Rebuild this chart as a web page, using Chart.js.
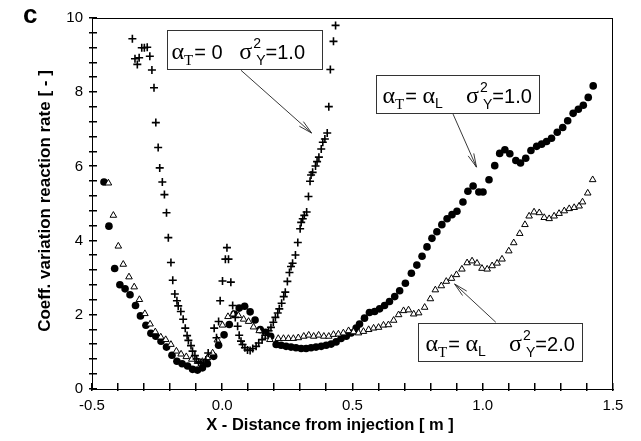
<!DOCTYPE html>
<html>
<head>
<meta charset="utf-8">
<script src="https://cdn.jsdelivr.net/npm/chart.js@4"></script>
<style>
  html, body { margin: 0; padding: 0; background: #fff; }
  canvas { display: block; }
</style>
</head>
<body>
<canvas id="chart" width="641" height="441"></canvas>
<script>
// alpha_T = alpha_L, sigma2_Y = 1.0  (filled circles)
const circX = [-0.454,-0.435,-0.413,-0.393,-0.373,-0.354,-0.333,-0.314,-0.293,-0.274,
  -0.255,-0.235,-0.214,-0.193,-0.174,-0.154,-0.133,-0.114,-0.095,-0.076,
  -0.057,-0.033,-0.014,0.007,0.027,0.046,0.065,0.086,0.107,0.126,
  0.146,0.166,0.186,0.207,0.226,0.245,0.264,0.283,0.303,0.322,
  0.341,0.360,0.380,0.399,0.418,0.437,0.456,0.476,0.495,0.514,
  0.527,0.546,0.565,0.585,0.604,0.623,0.642,0.662,0.681,0.703,
  0.726,0.747,0.767,0.786,0.805,0.824,0.843,0.863,0.882,0.901,
  0.924,0.943,0.963,0.985,1.001,1.024,1.046,1.065,1.085,1.104,
  1.127,1.145,1.165,1.185,1.207,1.226,1.245,1.264,1.286,1.307,
  1.326,1.347,1.367,1.386,1.405,1.424];
const circY = [5.58,4.39,3.25,2.81,2.70,2.54,2.25,1.97,1.72,1.50,
  1.42,1.29,1.13,0.91,0.75,0.68,0.62,0.53,0.51,0.57,
  0.68,0.88,1.18,1.46,1.74,2.02,2.18,2.23,2.08,1.86,
  1.60,1.53,1.42,1.20,1.18,1.15,1.13,1.11,1.09,1.09,
  1.11,1.13,1.15,1.18,1.21,1.27,1.36,1.42,1.51,1.64,
  1.75,1.91,2.06,2.09,2.16,2.25,2.36,2.49,2.65,2.85,
  3.12,3.34,3.58,3.83,4.06,4.24,4.43,4.59,4.70,4.79,
  5.04,5.33,5.47,5.31,5.31,5.64,6.02,6.35,6.45,6.34,
  6.16,6.09,6.22,6.43,6.54,6.60,6.67,6.76,6.92,7.05,
  7.23,7.43,7.54,7.65,7.86,8.17];

// alpha_T = alpha_L, sigma2_Y = 2.0  (open triangles)
const triX = [-0.437,-0.418,-0.399,-0.380,-0.358,-0.338,-0.318,-0.297,-0.277,-0.257,
  -0.236,-0.217,-0.197,-0.176,-0.158,-0.138,-0.117,-0.095,-0.076,-0.057,
  -0.037,-0.019,0.001,0.022,0.042,0.062,0.082,0.101,0.120,0.142,
  0.164,0.183,0.215,0.235,0.254,0.273,0.292,0.313,0.332,0.351,
  0.370,0.390,0.409,0.427,0.446,0.465,0.485,0.504,0.523,0.542,
  0.562,0.581,0.600,0.619,0.638,0.658,0.677,0.696,0.715,0.735,
  0.754,0.777,0.799,0.818,0.841,0.860,0.880,0.899,0.920,0.940,
  0.959,0.978,0.997,1.017,1.036,1.055,1.074,1.100,1.119,1.142,
  1.162,1.178,1.197,1.217,1.236,1.255,1.274,1.293,1.313,1.332,
  1.351,1.370,1.383,1.403,1.422];
const triY = [5.55,4.68,3.85,3.36,3.02,2.75,2.41,2.03,1.75,1.54,
  1.40,1.33,1.20,1.02,0.94,0.87,0.80,0.74,0.74,0.84,
  0.97,1.32,1.72,1.95,2.02,1.98,1.88,1.82,1.67,1.57,
  1.42,1.33,1.36,1.36,1.36,1.36,1.38,1.42,1.45,1.42,
  1.45,1.42,1.42,1.47,1.48,1.51,1.57,1.54,1.51,1.55,
  1.60,1.64,1.66,1.72,1.73,1.85,2.00,2.11,2.13,2.02,
  2.05,2.20,2.43,2.67,2.78,2.90,2.98,3.08,3.23,3.40,
  3.45,3.39,3.25,3.23,3.32,3.39,3.50,3.72,3.94,4.19,
  4.43,4.66,4.77,4.75,4.62,4.59,4.66,4.73,4.80,4.86,
  4.89,4.93,5.04,5.28,5.64];

// alpha_T = 0, sigma2_Y = 1.0  (crosses)
const crossX = [-0.345,-0.335,-0.326,-0.319,-0.309,-0.299,-0.288,-0.278,-0.270,-0.262,
  -0.255,-0.246,-0.240,-0.230,-0.222,-0.214,-0.207,-0.197,-0.190,-0.182,
  -0.174,-0.169,-0.159,-0.150,-0.142,-0.135,-0.130,-0.120,-0.114,-0.105,
  -0.099,-0.091,-0.082,-0.073,-0.063,-0.054,-0.031,-0.022,-0.014,-0.008,
  0.001,0.012,0.018,0.024,0.033,0.040,0.050,0.059,0.065,0.072,
  0.078,0.087,0.097,0.107,0.117,0.130,0.140,0.153,0.165,0.178,
  0.187,0.196,0.204,0.213,0.219,0.228,0.236,0.242,0.250,0.258,
  0.264,0.270,0.281,0.290,0.299,0.303,0.309,0.315,0.324,0.331,
  0.337,0.341,0.347,0.358,0.364,0.371,0.380,0.386,0.394,0.403,
  0.409,0.415,0.427,0.435];
const crossY = [9.44,8.90,8.75,8.93,9.20,9.20,9.21,8.97,8.60,8.12,
  7.18,6.51,5.96,5.58,5.24,4.75,4.08,3.41,2.93,2.56,
  2.38,2.24,2.09,1.88,1.64,1.44,1.31,1.17,1.02,0.90,
  0.81,0.73,0.71,0.69,0.78,0.97,1.64,1.38,1.82,2.38,
  2.91,3.50,3.81,3.50,2.88,2.25,1.93,1.69,1.45,1.29,
  1.20,1.11,1.05,1.04,1.09,1.15,1.24,1.33,1.45,1.57,
  1.66,1.80,1.93,2.05,2.16,2.31,2.49,2.61,2.90,3.14,
  3.30,3.39,3.61,3.95,4.32,4.49,4.59,4.68,4.77,5.19,
  5.60,5.77,5.84,6.01,6.13,6.25,6.47,6.65,6.74,6.90,
  7.61,8.61,9.37,9.80];

const xTicks = [-0.5, 0.0, 0.5, 1.0, 1.5];
const yTicks = [0, 2, 4, 6, 8, 10];
const xMinorStep = 0.1;
const yMinorStep = 0.4;

const points = (xs, ys) => xs.map((x, i) => ({ x: x, y: ys[i] }));
const isLabel = (v, list) => list.some(t => Math.abs(t - v) < 1e-6);

// text boxes with arrows (positions in data units)
const notes = [
  { box: [-0.212, 9.68, 0.381, 8.63], from: [0.072, 8.59], to: [0.343, 6.90], dx: 4,
    parts: [['α', 'g'], ['T', 'st'], ['= 0', 'n'], ['   ', 'n'], ['σ', 'g'], ['2', 'sup'], ['=1.0', 'n']] },
  { box: [0.592, 8.47, 1.215, 7.45], from: [0.886, 7.41], to: [0.976, 5.98], dx: 6,
    parts: [['α', 'g'], ['T', 'st'], ['= ', 'n'], ['α', 'g'], ['L', 'ss'], ['    ', 'n'], ['σ', 'g'], ['2', 'sup'], ['=1.0', 'n']] },
  { box: [0.750, 1.77, 1.381, 0.75], from: [1.050, 1.80], to: [0.892, 2.83], dx: 7,
    parts: [['α', 'g'], ['T', 'st'], ['= ', 'n'], ['α', 'g'], ['L', 'ss'], ['    ', 'n'], ['σ', 'g'], ['2', 'sup'], ['=2.0', 'n']] }
];

const xTitle = 'X - Distance from injection [ m ]';
const yTitle = 'Coeff. variation reaction rate [ - ]';

const SANS = '"Liberation Sans", Arial, sans-serif';
const SERIF = '"Liberation Serif", "Times New Roman", serif';

function drawParts(ctx, x, y, parts) {
  ctx.textAlign = 'left';
  ctx.textBaseline = 'alphabetic';
  for (const [t, kind] of parts) {
    if (kind === 'g') {
      ctx.font = '24px ' + SERIF;
      ctx.fillText(t, x, y);
      x += ctx.measureText(t).width;
    } else if (kind === 'st') {
      ctx.font = '15px ' + SERIF;
      ctx.fillText(t, x, y + 6);
      x += ctx.measureText(t).width + 1;
    } else if (kind === 'ss') {
      ctx.font = '14px ' + SANS;
      ctx.fillText(t, x, y + 5);
      x += ctx.measureText(t).width + 1;
    } else if (kind === 'sup') {
      ctx.font = '14px ' + SANS;
      ctx.fillText(t, x + 1, y - 11);
      const w = ctx.measureText(t).width;
      ctx.fillText('Y', x + 4, y + 6);
      x += Math.max(w, 4 + ctx.measureText('Y').width);
    } else {
      ctx.font = '20px ' + SANS;
      ctx.fillText(t, x, y);
      x += ctx.measureText(t).width;
    }
  }
}

const notesPlugin = {
  id: 'notes',
  afterDraw(chart) {
    const ctx = chart.ctx;
    const sx = chart.scales.x, sy = chart.scales.y;
    const a = chart.chartArea;
    ctx.save();
    ctx.globalAlpha = 1;
    ctx.globalCompositeOperation = 'source-over';
    ctx.setLineDash([]);

    // frame on top and right
    ctx.fillStyle = '#000';
    ctx.fillRect(a.left, a.top, a.right - a.left, 1);
    ctx.fillRect(a.right - 1, a.top, 1, a.bottom - a.top);

    // inward tick marks every minor step
    const nx = Math.round((sx.max - sx.min) / xMinorStep);
    for (let i = 0; i <= nx; i++) {
      const p = Math.round(sx.getPixelForValue(sx.min + i * xMinorStep));
      ctx.fillRect(p - 1, a.bottom - 6, 1.5, 8);
    }
    const ny = Math.round((sy.max - sy.min) / yMinorStep);
    for (let i = 0; i <= ny; i++) {
      const p = Math.round(sy.getPixelForValue(sy.min + i * yMinorStep));
      ctx.fillRect(a.left - 3, p - 1, 8, 1.5);
    }

    // axis titles
    ctx.fillStyle = '#000';
    ctx.textAlign = 'center';
    ctx.textBaseline = 'middle';
    ctx.font = 'bold 16.5px ' + SANS;
    ctx.fillText(xTitle, 330, 425);
    ctx.save();
    ctx.translate(45, 201);
    ctx.rotate(-Math.PI / 2);
    ctx.font = 'bold 17px ' + SANS;
    ctx.fillText(yTitle, 0, 0);
    ctx.restore();

    for (const n of notes) {
      const x1 = Math.round(sx.getPixelForValue(n.box[0])) + 0.5;
      const y1 = Math.round(sy.getPixelForValue(n.box[1])) + 0.5;
      const x2 = Math.round(sx.getPixelForValue(n.box[2])) + 0.5;
      const y2 = Math.round(sy.getPixelForValue(n.box[3])) + 0.5;
      ctx.fillStyle = '#fff';
      ctx.fillRect(x1, y1, x2 - x1, y2 - y1);
      ctx.strokeStyle = '#333';
      ctx.lineWidth = 1;
      ctx.strokeRect(x1, y1, x2 - x1, y2 - y1);
      ctx.fillStyle = '#000';
      drawParts(ctx, x1 + n.dx, y2 - 11, n.parts);

      // arrow
      const fx = sx.getPixelForValue(n.from[0]), fy = sy.getPixelForValue(n.from[1]);
      const tx = sx.getPixelForValue(n.to[0]), ty = sy.getPixelForValue(n.to[1]);
      const ang = Math.atan2(ty - fy, tx - fx);
      const L = 14, sp = 0.22;
      ctx.strokeStyle = '#222';
      ctx.lineWidth = 0.9;
      ctx.beginPath();
      ctx.moveTo(fx, fy);
      ctx.lineTo(tx, ty);
      ctx.moveTo(tx - L * Math.cos(ang - sp), ty - L * Math.sin(ang - sp));
      ctx.lineTo(tx, ty);
      ctx.lineTo(tx - L * Math.cos(ang + sp), ty - L * Math.sin(ang + sp));
      ctx.stroke();
    }

    // panel letter
    ctx.fillStyle = '#000';
    ctx.font = 'bold 26px ' + SANS;
    ctx.textAlign = 'left';
    ctx.textBaseline = 'alphabetic';
    ctx.fillText('c', 23, 23);
    ctx.restore();
  }
};

Chart.defaults.font.family = SANS;
Chart.defaults.color = '#000';

new Chart(document.getElementById('chart'), {
  type: 'scatter',
  data: {
    datasets: [
      {
        label: 'αT = 0  σ²Y = 1.0',
        data: points(crossX, crossY),
        pointStyle: 'cross',
        pointRadius: 4,
        borderColor: '#000',
        borderWidth: 1.6
      },
      {
        label: 'αT = αL  σ²Y = 2.0',
        data: points(triX, triY),
        pointStyle: 'triangle',
        pointRadius: 3.8,
        borderColor: '#000',
        backgroundColor: '#fff',
        borderWidth: 1
      },
      {
        label: 'αT = αL  σ²Y = 1.0',
        data: points(circX, circY),
        pointStyle: 'circle',
        pointRadius: 3.8,
        borderColor: '#000',
        backgroundColor: '#000',
        borderWidth: 0
      }
    ]
  },
  options: {
    responsive: false,
    animation: false,
    layout: { padding: { left: 0, top: 15, right: 28, bottom: 0 } },
    plugins: { legend: { display: false }, tooltip: { enabled: false } },
    scales: {
      x: {
        type: 'linear',
        min: -0.5,
        max: 1.5,
        afterFit: s => { s.height = 52; },
        border: { display: true, color: '#000', width: 1 },
        grid: { drawOnChartArea: false, drawTicks: false },
        ticks: {
          stepSize: 0.1,
          autoSkip: false,
          maxRotation: 0,
          padding: 8,
          font: { size: 15 },
          callback: v => isLabel(v, xTicks) ? v.toFixed(1) : ''
        }
      },
      y: {
        type: 'linear',
        min: 0,
        max: 10,
        afterFit: s => { s.width = 92; },
        border: { display: true, color: '#000', width: 1 },
        grid: { drawOnChartArea: false, drawTicks: false },
        ticks: {
          stepSize: 0.4,
          autoSkip: false,
          padding: 9,
          font: { size: 15 },
          callback: v => isLabel(v, yTicks) ? String(Math.round(v)) : ''
        }
      }
    }
  },
  plugins: [notesPlugin]
});
</script>
</body>
</html>
